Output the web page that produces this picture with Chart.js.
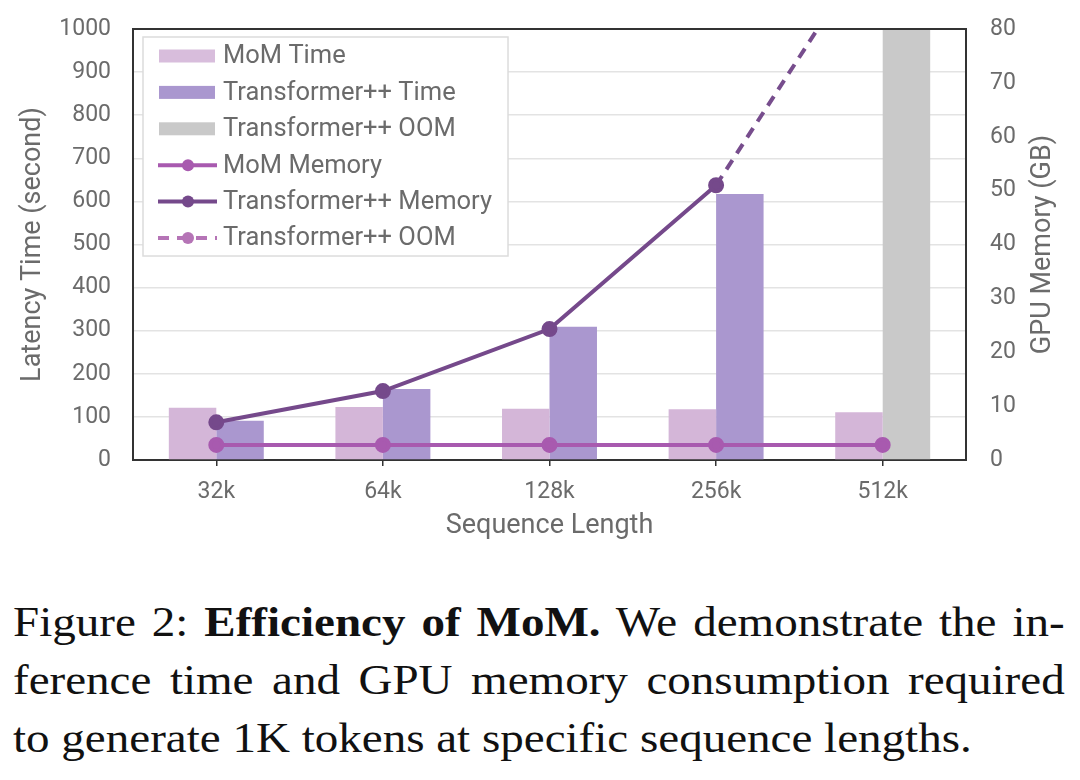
<!DOCTYPE html>
<html lang="en">
<head>
  <meta charset="UTF-8">
  <title>Efficiency of MoM</title>
  <style>
    body {
      margin: 0;
      background: #fff;
      width: 1080px;
      height: 780px;
      overflow: hidden;
      position: relative;
    }
    #caixaGrafico {
      position: absolute;
      left: 0;
      top: 0;
      width: 1080px;
      height: 560px;
    }
    /* legenda da figura, estilo artigo */
    #legendaFig {
      position: absolute;
      left: 13px;
      top: 593px;
      width: 939px;
      transform: scaleX(1.12);
      transform-origin: left top;
      font-family: "Liberation Serif", "Times New Roman", serif;
      font-size: 42px;
      line-height: 58px;
      color: #111;
    }
    #legendaFig .just {
      text-align: justify;
      text-align-last: justify;
    }
  </style>
</head>
<body>
  <div id="caixaGrafico">
    <canvas id="graficoMoM" width="1080" height="560"></canvas>
  </div>

  <div id="legendaFig">
    <div class="just">Figure 2: <b>Efficiency of MoM.</b> We demonstrate the in-</div>
    <div class="just">ference time and GPU memory consumption required</div>
    <div>to generate 1K tokens at specific sequence lengths.</div>
  </div>

  <script src="https://cdn.jsdelivr.net/npm/chart.js"></script>
  <script>
    // dados
    const seqLengths = ['32k', '64k', '128k', '256k', '512k'];
    const momTime = [121, 123, 119, 118, 111];
    const tppTime = [91, 165, 309, 617, null];
    const tppOomBar = [null, null, null, null, 1000];
    const momMemory = [2.8, 2.8, 2.8, 2.8, 2.8];
    const tppMemory = [7.0, 12.8, 24.3, 51.0, null];
    const tppOomLine = [null, null, null, 51.0, 98.6];

    const corTexto = '#6b6b6b';
    const corEixo = '#333';

    Chart.defaults.font.family = 'Roboto';
    Chart.defaults.color = corTexto;

    // caixa de legenda dentro da area do grafico
    const legendaCaixa = {
      id: 'legendaCaixa',
      afterDatasetsDraw(chart) {
        const ctx = chart.ctx;
        const x0 = chart.chartArea.left + 10;
        const y0 = chart.chartArea.top + 8;
        ctx.save();
        ctx.fillStyle = '#fff';
        ctx.fillRect(x0, y0, 365, 219);
        ctx.strokeStyle = '#dcdcdc';
        ctx.lineWidth = 1.5;
        ctx.strokeRect(x0, y0, 365, 219);

        chart.data.datasets.forEach((ds, i) => {
          const cy = y0 + 19 + i * 36.4;
          if (ds.type === 'bar') {
            ctx.fillStyle = ds.legendColor || ds.backgroundColor;
            ctx.fillRect(x0 + 16, cy - 6.5, 56, 13);
          } else {
            const cor = ds.legendColor || ds.borderColor;
            ctx.strokeStyle = cor;
            ctx.lineWidth = 4;
            ctx.setLineDash(ds.borderDash || []);
            ctx.beginPath();
            ctx.moveTo(x0 + 15, cy);
            ctx.lineTo(x0 + 74, cy);
            ctx.stroke();
            ctx.setLineDash([]);
            ctx.fillStyle = cor;
            ctx.beginPath();
            ctx.arc(x0 + 45, cy, 6, 0, Math.PI * 2);
            ctx.fill();
          }
          ctx.fillStyle = corTexto;
          ctx.font = '25.5px Roboto';
          ctx.textAlign = 'left';
          ctx.textBaseline = 'middle';
          ctx.fillText(ds.label, x0 + 80, cy + 1);
        });
        ctx.restore();
      },
      afterDraw(chart) {
        const ctx = chart.ctx;
        const a = chart.chartArea;
        ctx.save();
        // borda de cima
        ctx.strokeStyle = corEixo;
        ctx.lineWidth = 2;
        ctx.beginPath();
        ctx.moveTo(a.left - 1, a.top);
        ctx.lineTo(a.right + 1, a.top);
        ctx.stroke();
        // titulo do eixo da direita, lendo de baixo para cima
        ctx.translate(1043, (a.top + a.bottom) / 2);
        ctx.rotate(-Math.PI / 2);
        ctx.fillStyle = corTexto;
        ctx.font = '27px Roboto';
        ctx.textAlign = 'center';
        ctx.textBaseline = 'middle';
        ctx.fillText('GPU Memory (GB)', 0, 0);
        ctx.restore();
      }
    };

    const ctx = document.getElementById('graficoMoM').getContext('2d');
    new Chart(ctx, {
      type: 'bar',
      data: {
        labels: seqLengths,
        datasets: [
          {
            type: 'bar', label: 'MoM Time', data: momTime, stack: 'mom',
            backgroundColor: '#d4b6d8', legendColor: '#d8bddc',
            yAxisID: 'y', order: 2
          },
          {
            type: 'bar', label: 'Transformer++ Time', data: tppTime, stack: 'tpp',
            backgroundColor: '#aa97cf', yAxisID: 'y', order: 2
          },
          {
            type: 'bar', label: 'Transformer++ OOM', data: tppOomBar, stack: 'tpp',
            backgroundColor: '#c9c9c9', yAxisID: 'y', order: 2
          },
          {
            type: 'line', label: 'MoM Memory', data: momMemory,
            borderColor: '#a85aaf', backgroundColor: '#a85aaf',
            borderWidth: 4, pointRadius: 6, tension: 0,
            yAxisID: 'y1', order: 1, clip: 0
          },
          {
            type: 'line', label: 'Transformer++ Memory', data: tppMemory,
            borderColor: '#75498b', backgroundColor: '#75498b',
            borderWidth: 4, pointRadius: 6, tension: 0,
            yAxisID: 'y1', order: 0, clip: 0
          },
          {
            type: 'line', label: 'Transformer++ OOM', data: tppOomLine,
            borderColor: '#774d8d', legendColor: '#b574b6', borderDash: [11, 8],
            borderWidth: 4, pointRadius: 0, tension: 0,
            yAxisID: 'y1', order: 1, clip: 0
          }
        ]
      },
      options: {
        responsive: false,
        animation: false,
        layout: { padding: { top: 29 } },
        categoryPercentage: 0.57,
        barPercentage: 1.0,
        plugins: {
          legend: { display: false },
          tooltip: { enabled: false }
        },
        scales: {
          x: {
            offset: true,
            grid: {
              offset: false, drawOnChartArea: false, drawTicks: true,
              tickLength: 6, color: corEixo, lineWidth: 1.5
            },
            border: { color: corEixo, width: 2 },
            ticks: { font: { size: 23 }, color: corTexto, padding: 12 },
            title: {
              display: true, text: 'Sequence Length', color: corTexto,
              font: { size: 27 }, padding: { top: 0, bottom: 18 }
            },
            afterFit: (s) => { s.height = 100; }
          },
          y: {
            position: 'left',
            min: 0, max: 1000,
            grid: { color: '#e3e3e3', lineWidth: 1.5, drawTicks: false },
            border: { color: corEixo, width: 2 },
            ticks: {
              stepSize: 100, font: { size: 23 }, color: corTexto, padding: 22,
              callback: (v) => String(v)
            },
            title: {
              display: true, text: 'Latency Time (second)', color: corTexto,
              font: { size: 27 }, padding: { top: 17, bottom: 0 }
            },
            afterFit: (s) => { s.width = 133; s.paddingTop = 0; s.paddingBottom = 0; }
          },
          y1: {
            position: 'right',
            min: 0, max: 80,
            stacked: false,
            grid: { display: false, drawTicks: false },
            border: { color: corEixo, width: 2 },
            ticks: {
              stepSize: 10, font: { size: 23 }, color: corTexto, padding: 24,
              callback: (v) => String(v)
            },
            afterFit: (s) => { s.width = 114; s.paddingTop = 0; s.paddingBottom = 0; }
          }
        }
      },
      plugins: [legendaCaixa]
    });
  </script>
</body>
</html>
